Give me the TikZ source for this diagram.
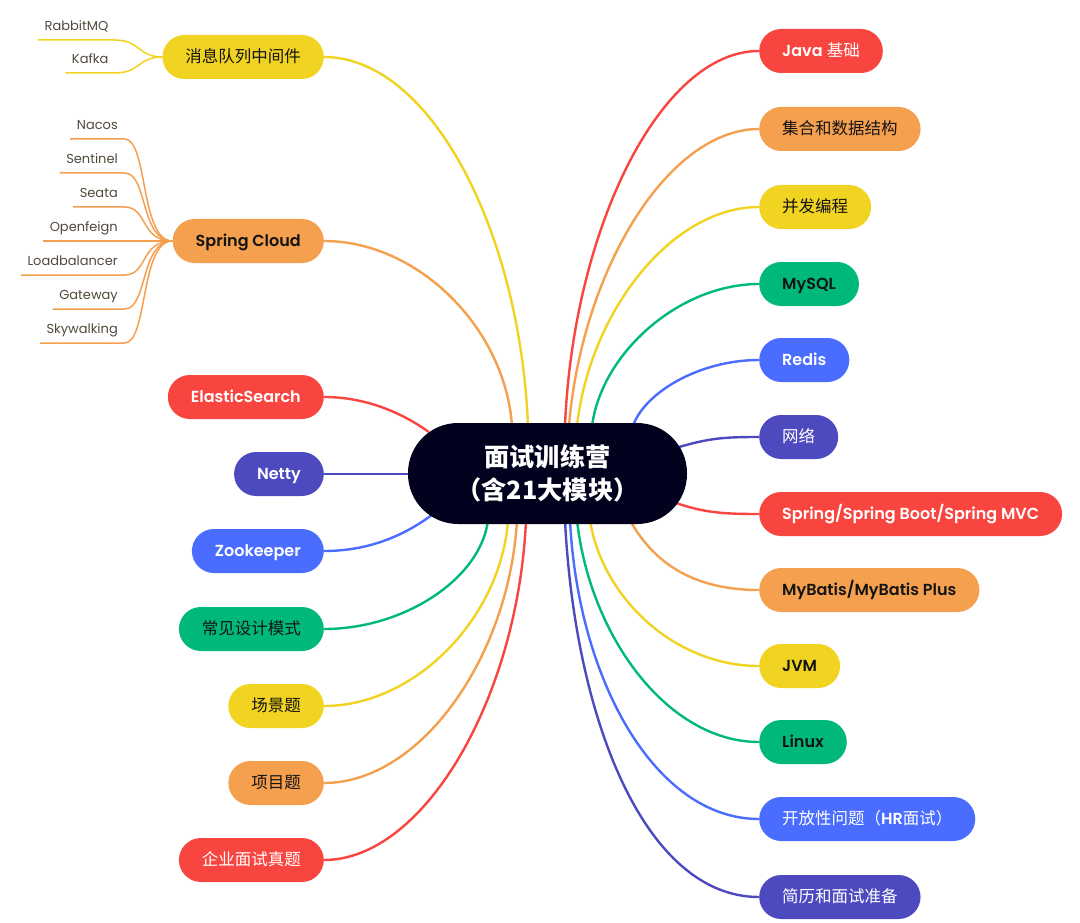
\documentclass[tikz,border=0pt]{standalone}
\usepackage{fontspec}
\setmainfont{Poppins}[BoldFont={Poppins SemiBold}]
\newfontfamily\cjk{Noto Sans CJK SC}[Scale=1.03]
\usetikzlibrary{calc}
\pgfdeclarelayer{bg}
\pgfsetlayers{bg,main}
\definecolor{cred}{HTML}{F9453F}
\definecolor{corg}{HTML}{F5A04E}
\definecolor{cyel}{HTML}{F1D321}
\definecolor{cgrn}{HTML}{00B978}
\definecolor{cblu}{HTML}{4A6CFF}
\definecolor{cpur}{HTML}{4D4ABF}
\definecolor{cnavy}{HTML}{02021F}
\definecolor{cink}{HTML}{141414}
\definecolor{cleaf}{HTML}{514A3C}
\begin{document}
\begin{tikzpicture}[x=1pt,y=-1pt,
  topic/.style={rounded corners=22pt, minimum height=44pt, inner xsep=23pt, inner ysep=0pt,
    text height=11.5pt, text depth=0pt, font=\fontsize{16}{19}\selectfont},
  rt/.style={topic, anchor=west},
  lt/.style={topic, anchor=east},
  hub/.style={fill=cnavy, rounded corners=50pt, minimum width=279pt, minimum height=101pt,
    text=white, align=center, inner sep=0pt, font=\cjk\bfseries\fontsize{24.5}{33}\selectfont},
  leaf/.style={anchor=south east, font=\fontsize{13}{15}\selectfont, text=cleaf,
    inner xsep=6.5pt, inner ysep=9pt, text height=9.5pt, text depth=0pt},
  link/.style={line width=2.4pt, draw=#1},
  twig/.style={line width=1.5pt, draw=#1}]
\useasboundingbox (0,0) rectangle (1080,923);

% hub
\node[hub] (ctr) at (547.5,473.5) {\raisebox{-2pt}{面试训练营}\\\raisebox{-2pt}{（含21大模块）}};

% right topics
\node[rt, fill=cred, text=white] (java) at (759,51) {\textbf{Java} {\cjk 基础}};
\node[rt, fill=corg, text=cink] (coll) at (759,129) {\cjk 集合和数据结构};
\node[rt, fill=cyel, text=cink] (conc) at (759,207) {\cjk 并发编程};
\node[rt, fill=cgrn, text=cink] (mysql) at (759,284) {\textbf{MySQL}};
\node[rt, fill=cblu, text=white] (redis) at (759,360) {\textbf{Redis}};
\node[rt, fill=cpur, text=white] (net) at (759,437) {\cjk 网络};
\node[rt, fill=cred, text=white] (spring) at (759,514) {\textbf{Spring/Spring Boot/Spring MVC}};
\node[rt, fill=corg, text=cink] (mybatis) at (759,590) {\textbf{MyBatis/MyBatis Plus}};
\node[rt, fill=cyel, text=cink] (jvm) at (759,666) {\textbf{JVM}};
\node[rt, fill=cgrn, text=cink] (linux) at (759,742) {\textbf{Linux}};
\node[rt, fill=cblu, text=white] (hr) at (759,819) {{\cjk 开放性问题（}\textbf{HR}{\cjk 面试）}};
\node[rt, fill=cpur, text=white] (resume) at (759,897) {\cjk 简历和面试准备};

% left topics
\node[lt, fill=cyel, text=cink] (mq) at (324,57) {\cjk 消息队列中间件};
\node[lt, fill=corg, text=cink] (sc) at (324,241) {\textbf{Spring Cloud}};
\node[lt, fill=cred, text=white] (es) at (324,397) {\textbf{ElasticSearch}};
\node[lt, fill=cpur, text=white] (netty) at (324,474) {\textbf{Netty}};
\node[lt, fill=cblu, text=white] (zk) at (324,551) {\textbf{Zookeeper}};
\node[lt, fill=cgrn, text=cink] (dp) at (324,629) {\cjk 常见设计模式};
\node[lt, fill=cyel, text=cink] (scene) at (324,706) {\cjk 场景题};
\node[lt, fill=corg, text=cink] (proj) at (324,783) {\cjk 项目题};
\node[lt, fill=cred, text=white] (real) at (324,860) {\cjk 企业面试真题};

% leaves
\node[leaf] (rmq) at (115,40) {RabbitMQ};
\node[leaf] (kafka) at (115,73) {Kafka};
\node[leaf] (nacos) at (124.5,139) {Nacos};
\node[leaf] (sentinel) at (124.5,173) {Sentinel};
\node[leaf] (seata) at (124.5,207) {Seata};
\node[leaf] (feign) at (124.5,241) {Openfeign};
\node[leaf] (lb) at (124.5,275) {Loadbalancer};
\node[leaf] (gw) at (124.5,309) {Gateway};
\node[leaf] (sky) at (124.5,343) {Skywalking};

\begin{pgfonlayer}{bg}
\fill[white] (0,0) rectangle (1080,923);
% right connectors
\draw[link=cred] ($(ctr.north)+(17.5,3)$) .. controls (573,230) and (660,51) .. (java.west);
\draw[link=corg] ($(ctr.north)+(21.5,3)$) .. controls (582,270) and (668,129) .. (coll.west);
\draw[link=cyel] ($(ctr.north)+(29.5,3)$) .. controls (590,311) and (672,207) .. (conc.west);
\draw[link=cgrn] ($(ctr.north)+(44.5,3)$) .. controls (602,352) and (680,284) .. (mysql.west);
\draw[link=cblu] ($(ctr.north)+(85.5,3)$) .. controls (645,392) and (700,360) .. (redis.west);
\draw[link=cpur] ($(ctr.east)+(-8,-26.5)$) .. controls (710,438) and (725,437) .. (net.west);
\draw[link=cred] ($(ctr.east)+(-11,29.5)$) .. controls (705,513) and (725,514) .. (spring.west);
\draw[link=corg] ($(ctr.south)+(82.5,-4)$) .. controls (652,560) and (690,590) .. (mybatis.west);
\draw[link=cyel] ($(ctr.south)+(42.5,-4)$) .. controls (602,597) and (674,666) .. (jvm.west);
\draw[link=cgrn] ($(ctr.south)+(29.5,-4)$) .. controls (590,637) and (668,742) .. (linux.west);
\draw[link=cblu] ($(ctr.south)+(22.5,-4)$) .. controls (578,680) and (655,819) .. (hr.west);
\draw[link=cpur] ($(ctr.south)+(17.5,-4)$) .. controls (575,720) and (645,897) .. (resume.west);
% left connectors
\draw[link=cyel] ($(ctr.north)+(-19.5,3)$) .. controls (520,230) and (430,57) .. (mq.east);
\draw[link=corg] ($(ctr.north)+(-35.5,3)$) .. controls (505,328) and (418,241) .. (sc.east);
\draw[link=cred] ($(ctr.west)+(21,-41.5)$) .. controls (398,410) and (362,397) .. (es.east);
\draw[link=cpur] ($(ctr.west)+(3,0.5)$) -- (netty.east);
\draw[link=cblu] ($(ctr.west)+(24,41.5)$) .. controls (398,540) and (362,551) .. (zk.east);
\draw[link=cgrn] ($(ctr.south)+(-59.5,-4)$) .. controls (481,578) and (405,629) .. (dp.east);
\draw[link=cyel] ($(ctr.south)+(-39.5,-4)$) .. controls (501,618) and (415,706) .. (scene.east);
\draw[link=corg] ($(ctr.south)+(-30.5,-4)$) .. controls (509,658) and (420,783) .. (proj.east);
\draw[link=cred] ($(ctr.south)+(-21.5,-4)$) .. controls (518,698) and (424,860) .. (real.east);
% leaf connectors
\draw[twig=cyel] (rmq.south west) -- (rmq.south east) .. controls (140,40) and (138,57) .. (mq.west);
\draw[twig=cyel] (kafka.south west) -- (kafka.south east) .. controls (140,73) and (138,57) .. (mq.west);
\draw[twig=corg] (nacos.south west) -- (nacos.south east) .. controls (148,139) and (140,241) .. (sc.west);
\draw[twig=corg] (sentinel.south west) -- (sentinel.south east) .. controls (148,173) and (140,241) .. (sc.west);
\draw[twig=corg] (seata.south west) -- (seata.south east) .. controls (148,207) and (140,241) .. (sc.west);
\draw[twig=corg] (feign.south west) -- (feign.south east) -- (sc.west);
\draw[twig=corg] (lb.south west) -- (lb.south east) .. controls (148,275) and (140,241) .. (sc.west);
\draw[twig=corg] (gw.south west) -- (gw.south east) .. controls (148,309) and (140,241) .. (sc.west);
\draw[twig=corg] (sky.south west) -- (sky.south east) .. controls (148,343) and (140,241) .. (sc.west);
\end{pgfonlayer}
\end{tikzpicture}
\end{document}
